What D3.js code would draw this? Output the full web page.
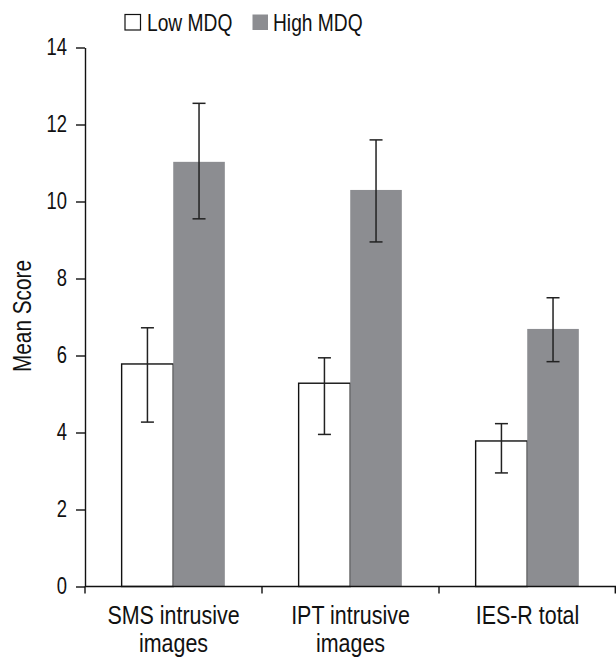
<!DOCTYPE html>
<html>
<head>
<meta charset="utf-8">
<script src="https://cdn.jsdelivr.net/npm/d3@7"></script>
<style>
  body { margin: 0; background: #fff; }
  svg text { font-family: "Liberation Sans", Arial, sans-serif; fill: #111; }
</style>
</head>
<body>
<svg id="chart" width="616" height="658"></svg>
<script>
// values
const categories = ["SMS intrusive images", "IPT intrusive images", "IES-R total"];
const categoryLines = [["SMS intrusive", "images"], ["IPT intrusive", "images"], ["IES-R total"]];
const groups = ["Low MDQ", "High MDQ"];

const lowMeans = [5.78, 5.28, 3.78];
const lowUpper = [6.72, 5.94, 4.23];
const lowLower = [4.27, 3.95, 2.95];

const highMeans = [11.03, 10.30, 6.69];
const highUpper = [12.55, 11.60, 7.50];
const highLower = [9.55, 8.95, 5.84];

const yTicks = [0, 2, 4, 6, 8, 10, 12, 14];

const colors = { "Low MDQ": "#ffffff", "High MDQ": "#8c8d91" };

const rows = [];
categories.forEach((c, i) => {
  rows.push({ cat: c, group: "Low MDQ", mean: lowMeans[i], hi: lowUpper[i], lo: lowLower[i] });
  rows.push({ cat: c, group: "High MDQ", mean: highMeans[i], hi: highUpper[i], lo: highLower[i] });
});

// no condensed font available, so squeeze the text horizontally
function condense(sel, k) {
  sel.each(function () {
    const w = this.getComputedTextLength();
    d3.select(this).attr("textLength", w * k).attr("lengthAdjust", "spacingAndGlyphs");
  });
}
const squeeze = 0.8;

const svg = d3.select("#chart");
const m = { left: 85, right: 616, top: 47.5, bottom: 586.5 };

const y = d3.scaleLinear().domain([0, 14]).range([m.bottom, m.top]);
const x0 = d3.scaleBand().domain(categories).range([m.left, m.right]);
const bw = x0.bandwidth();
const x1 = d3.scaleBand().domain(groups).range([bw * 0.207, bw * 0.79]);

// bars
svg.append("g")
  .selectAll("rect")
  .data(rows)
  .join("rect")
  .attr("x", d => x0(d.cat) + x1(d.group))
  .attr("y", d => y(d.mean))
  .attr("width", x1.bandwidth())
  .attr("height", d => y(0) - y(d.mean))
  .attr("fill", d => colors[d.group])
  .attr("stroke", d => d.group === "Low MDQ" ? "#111" : "none")
  .attr("stroke-width", 1.4);

// error bars
const eb = svg.append("g").attr("stroke", "#222").attr("stroke-width", 1.5);
rows.forEach(d => {
  const cx = x0(d.cat) + x1(d.group) + x1.bandwidth() / 2;
  eb.append("line").attr("x1", cx).attr("x2", cx).attr("y1", y(d.hi)).attr("y2", y(d.lo));
  eb.append("line").attr("x1", cx - 6.5).attr("x2", cx + 6.5).attr("y1", y(d.hi)).attr("y2", y(d.hi));
  eb.append("line").attr("x1", cx - 6.5).attr("x2", cx + 6.5).attr("y1", y(d.lo)).attr("y2", y(d.lo));
});

// y axis
const yAxis = svg.append("g")
  .attr("transform", `translate(${m.left},0)`)
  .call(d3.axisLeft(y).tickValues(yTicks).tickSize(9).tickSizeOuter(0).tickPadding(9));
yAxis.selectAll("path, line").attr("stroke", "#111").attr("stroke-width", 1.4);
yAxis.selectAll("text").attr("font-size", 23).attr("font-family", null).call(condense, squeeze);

// x axis
const xg = svg.append("g");
xg.append("line").attr("x1", m.left).attr("x2", m.right).attr("y1", m.bottom).attr("y2", m.bottom)
  .attr("stroke", "#111").attr("stroke-width", 1.4);
const bounds = categories.map(c => x0(c)).concat([x0(categories[categories.length - 1]) + bw - 0.7]);
xg.selectAll("line.tick")
  .data(bounds)
  .join("line")
  .attr("class", "tick")
  .attr("x1", d => d).attr("x2", d => d)
  .attr("y1", m.bottom).attr("y2", m.bottom + 7)
  .attr("stroke", "#111").attr("stroke-width", 1.4);

categories.forEach((c, i) => {
  categoryLines[i].forEach((ln, j) => {
    xg.append("text")
      .attr("x", x0(c) + bw / 2)
      .attr("y", 624 + j * 28)
      .attr("text-anchor", "middle")
      .attr("font-size", 26)
      .text(ln)
      .call(condense, squeeze * 1.03);
  });
});

// y label
svg.append("text")
  .attr("transform", "translate(31,316) rotate(-90)")
  .attr("text-anchor", "middle")
  .attr("font-size", 26)
  .text("Mean Score")
  .call(condense, squeeze);

// legend
const legendX = [125, 252.5];
const legendTextX = [147, 273];
groups.forEach((g, i) => {
  svg.append("rect")
    .attr("x", legendX[i]).attr("y", 14.5)
    .attr("width", 15.5).attr("height", 15.5)
    .attr("fill", colors[g])
    .attr("stroke", i === 0 ? "#111" : "none")
    .attr("stroke-width", 1.2);
  svg.append("text")
    .attr("x", legendTextX[i]).attr("y", 31)
    .attr("font-size", 24)
    .text(g)
    .call(condense, squeeze);
});
</script>
</body>
</html>
